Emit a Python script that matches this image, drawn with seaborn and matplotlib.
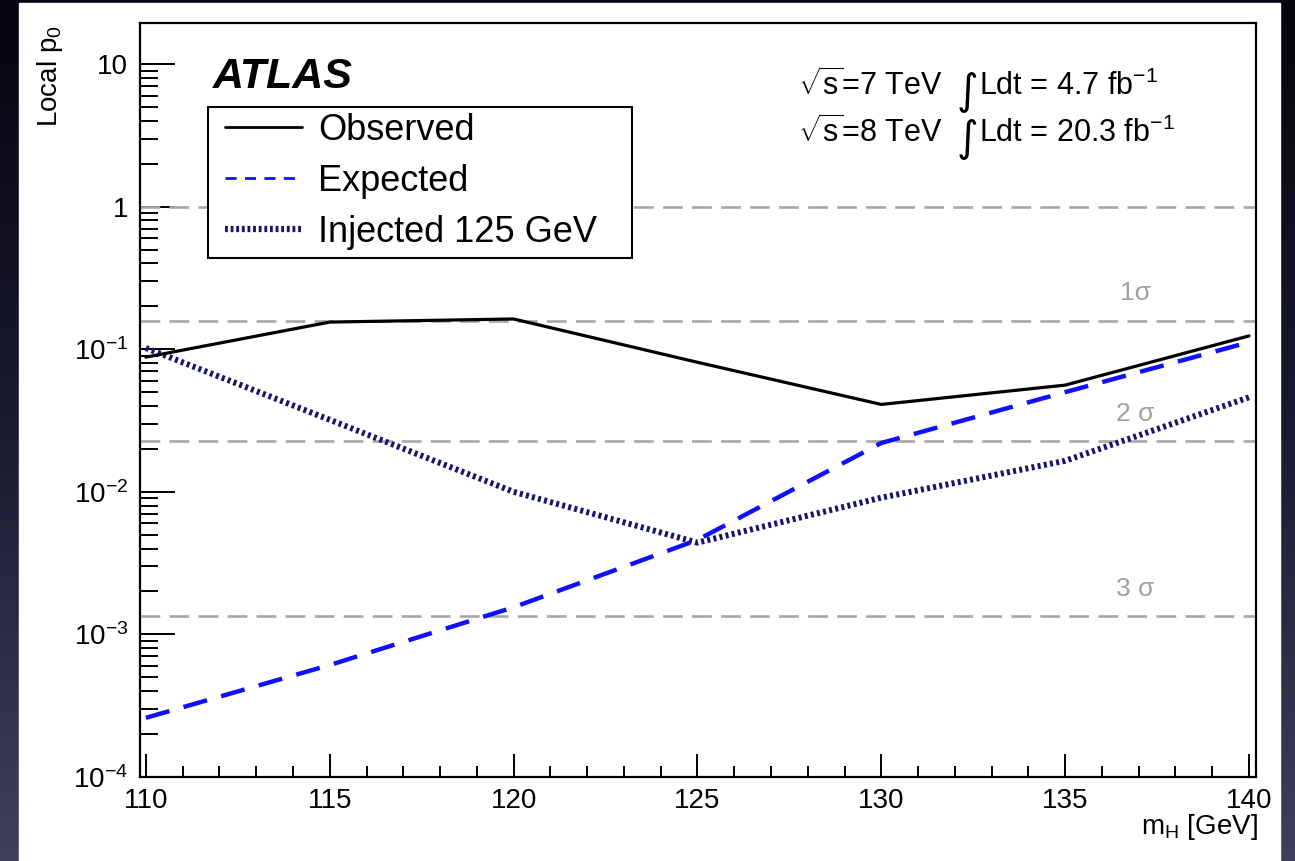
import numpy as np
import pandas as pd
import matplotlib
matplotlib.use("Agg")
import matplotlib.pyplot as plt
import seaborn as sns
from matplotlib.lines import Line2D
from matplotlib.patches import Rectangle
from matplotlib.colors import LinearSegmentedColormap
from matplotlib.ticker import FixedLocator, FixedFormatter, LogLocator, MultipleLocator, NullFormatter

# Higgs mass hypotheses [GeV] and local p0 values
mass = [110, 115, 120, 125, 130, 135, 140]
observed = [0.088, 0.155, 0.163, 0.081, 0.041, 0.056, 0.124]
expected = [2.6e-4, 6.1e-4, 1.55e-3, 4.6e-3, 0.022, 0.050, 0.112]
injected = [0.102, 0.032, 0.010, 0.0044, 0.0091, 0.0165, 0.046]

# significance reference levels
sigma_p = [1.0, 0.1587, 0.02275, 0.00135]
sigma_labels = ["", "1σ", "2 σ", "3 σ"]

x_ticks = [110, 115, 120, 125, 130, 135, 140]
y_ticks = [1e-4, 1e-3, 1e-2, 1e-1, 1, 10]
y_tick_labels = [r"$10^{-4}$", r"$10^{-3}$", r"$10^{-2}$", r"$10^{-1}$", "1", "10"]

legend_labels = ["Observed", "Expected", "Injected 125 GeV"]
lumi_lines = [("7", "4.7"), ("8", "20.3")]

sns.set_theme(style="white")
plt.rcParams["font.family"] = ["Liberation Sans", "DejaVu Sans"]
plt.rcParams["mathtext.fontset"] = "custom"
plt.rcParams["mathtext.rm"] = "Liberation Sans"
plt.rcParams["mathtext.it"] = "Liberation Sans:italic"
plt.rcParams["mathtext.bf"] = "Liberation Sans:bold"
for key in ["text.color", "axes.labelcolor", "xtick.color", "ytick.color"]:
    plt.rcParams[key] = "black"

W, H = 1295, 861
fig = plt.figure(figsize=(W / 100, H / 100), dpi=100)

# dark slide backdrop with white panel
bg = fig.add_axes([0, 0, 1, 1], zorder=-10)
cmap = LinearSegmentedColormap.from_list("slide", ["#05050f", "#1a1a30", "#40405c"])
grad = np.linspace(0, 1, 256).reshape(-1, 1)
bg.imshow(grad, aspect="auto", cmap=cmap, extent=[0, 1, 0, 1], origin="upper")
bg.add_patch(Rectangle((19 / W, 0), (1280 - 19) / W, 1 - 3 / H, color="white"))
bg.set_xlim(0, 1)
bg.set_ylim(0, 1)
bg.axis("off")

AX_L, AX_R, AX_T, AX_B = 140, 1256, 23, 777
ax = fig.add_axes([AX_L / W, 1 - AX_B / H, (AX_R - AX_L) / W, (AX_B - AX_T) / H])
ax.set_facecolor("white")
ax.set_yscale("log")


def ax_frac(px, py):
    return (px - AX_L) / (AX_R - AX_L), (AX_B - py) / (AX_B - AX_T)


# reference significance lines
for p, lab in zip(sigma_p, sigma_labels):
    ax.axhline(p, color="#a8a8a8", lw=1.9, dashes=(7.5, 3.5), zorder=1)
    if lab:
        ax.annotate(lab, xy=(136.9, p), xytext=(0, 11), textcoords="offset points",
                    ha="center", va="bottom", fontsize=19, color="#a0a0a0")

df = pd.DataFrame({"mass": mass, "observed": observed, "expected": expected, "injected": injected})

sns.lineplot(data=df, x="mass", y="observed", ax=ax, color="black", lw=2.3, zorder=4)
sns.lineplot(data=df, x="mass", y="expected", ax=ax, color="#1010ff", lw=3.2, zorder=3)
ax.lines[-1].set_dashes((5.5, 3.3))
sns.lineplot(data=df, x="mass", y="injected", ax=ax, color="#15156e", lw=4.3, zorder=2)
ax.lines[-1].set_dashes((0.5, 0.55))

ax.set_xlim(109.84, 140.19)
ax.set_ylim(1e-4, 19.4)
ax.set_xlabel("")
ax.set_ylabel("")

ax.xaxis.set_major_locator(FixedLocator(x_ticks))
ax.xaxis.set_minor_locator(MultipleLocator(1))
ax.yaxis.set_major_locator(FixedLocator(y_ticks))
ax.yaxis.set_major_formatter(FixedFormatter(y_tick_labels))
ax.yaxis.set_minor_locator(LogLocator(base=10, subs=np.arange(2, 10)))
ax.yaxis.set_minor_formatter(NullFormatter())

ax.tick_params(axis="both", which="both", direction="in", colors="black",
               labelsize=20, width=1.4, top=False, right=False,
               bottom=True, left=True)
ax.tick_params(axis="y", which="major", length=25, pad=8.5)
ax.tick_params(axis="y", which="minor", length=13)
ax.tick_params(axis="x", which="major", length=16.5, pad=8)
ax.tick_params(axis="x", which="minor", length=8)

for s in ax.spines.values():
    s.set_visible(True)
    s.set_color("black")
    s.set_linewidth(1.6)

# legend frame
fx0, fy1 = ax_frac(208, 107)
fx1, fy0 = ax_frac(632, 258)
ax.add_patch(Rectangle((fx0, fy0), fx1 - fx0, fy1 - fy0, transform=ax.transAxes,
                       facecolor="white", edgecolor="black", lw=1.5, zorder=5, clip_on=False))

handles = [
    Line2D([], [], color="black", lw=2.0),
    Line2D([], [], color="#1010ff", lw=2.0, dashes=(4, 3)),
    Line2D([], [], color="#15156e", lw=4.5, dashes=(0.45, 0.45)),
]
lx, ly = ax_frac(225, 112.5)
leg = ax.legend(handles, legend_labels, loc="upper left", bbox_to_anchor=(lx, ly),
                borderaxespad=0, fontsize=26, frameon=False, handlelength=2.13,
                handletextpad=0.44, borderpad=0, labelspacing=0.45)
leg.set_zorder(6)

fig.text(213 / W, 1 - 88 / H, "ATLAS", fontsize=31, fontweight="bold",
         fontstyle="italic", va="baseline", ha="left")

# centre-of-mass energy and luminosity lines, with a tall integral sign
fig.canvas.draw()
renderer = fig.canvas.get_renderer()
for (energy, lumi), base in zip(lumi_lines, [95, 142]):
    yb = 1 - base / H
    t1 = fig.text(798 / W, yb, r"$\sqrt{\rm s}$=%s TeV" % energy, fontsize=22,
                  va="baseline", ha="left")
    e1 = t1.get_window_extent(renderer)
    t2 = fig.text((e1.x1 + 14) / W, yb - 9 / H, "∫", fontsize=30, family="DejaVu Sans",
                  va="baseline", ha="left")
    e2 = t2.get_window_extent(renderer)
    fig.text((e2.x1 + 1) / W, yb, r"Ldt = %s fb$^{-1}$" % lumi, fontsize=22,
             va="baseline", ha="left")

fig.text(50 / W, 1 - 25 / H, r"Local p$_{\rm 0}$", rotation=90, fontsize=20,
         va="top", ha="center")
fig.text(1258 / W, 1 - 827 / H, r"m$_{\rm H}$ [GeV]", fontsize=20,
         va="center", ha="right")

fig.savefig("out.png", dpi=100)
